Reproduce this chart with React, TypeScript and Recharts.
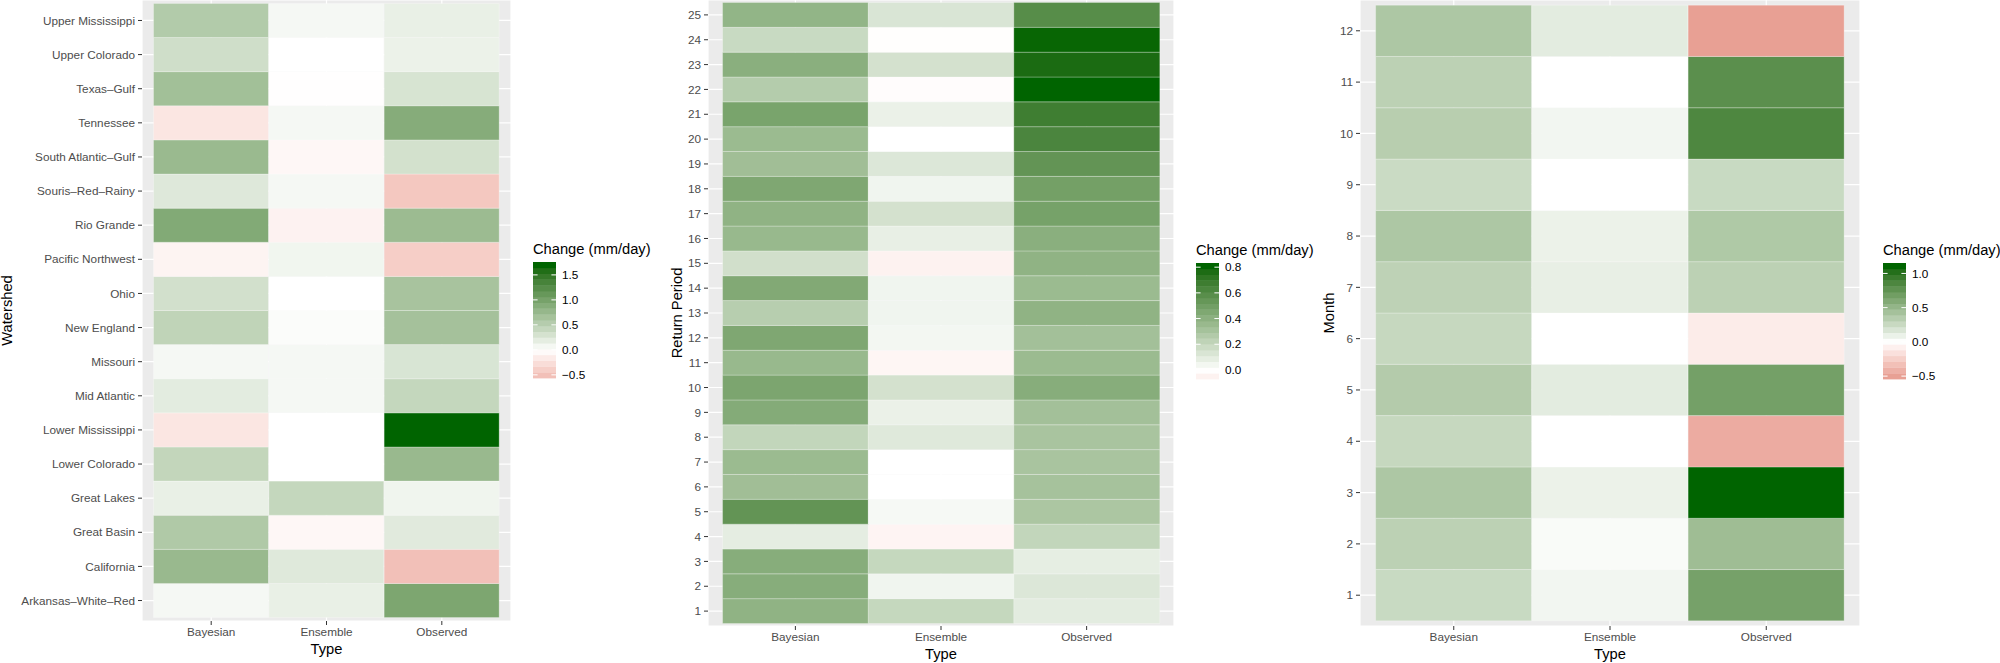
import { BarChart, Bar, Cell, XAxis, YAxis, CartesianGrid } from 'recharts'

const types = ['Bayesian', 'Ensemble', 'Observed']

// rows run from the bottom of each panel to the top
const watersheds = [
  'Arkansas–White–Red', 'California', 'Great Basin', 'Great Lakes', 'Lower Colorado',
  'Lower Mississippi', 'Mid Atlantic', 'Missouri', 'New England', 'Ohio',
  'Pacific Northwest', 'Rio Grande', 'Souris–Red–Rainy', 'South Atlantic–Gulf',
  'Tennessee', 'Texas–Gulf', 'Upper Colorado', 'Upper Mississippi',
]
const watershedBayesian = [0.07, 0.75, 0.58, 0.16, 0.44, -0.2, 0.2, 0.07, 0.46, 0.33, -0.09, 0.92, 0.24, 0.74, -0.2, 0.68, 0.35, 0.56]
const watershedEnsemble = [0.16, 0.23, -0.06, 0.43, 0.0, 0.0, 0.07, 0.07, 0.03, 0.0, 0.1, -0.1, 0.07, -0.06, 0.07, -0.01, 0.0, 0.07]
const watershedObserved = [0.96, -0.505, 0.22, 0.11, 0.75, 1.7, 0.43, 0.28, 0.66, 0.64, -0.39, 0.73, -0.44, 0.32, 0.89, 0.29, 0.14, 0.16]
const watershedBreaks = [-0.5, 0, 0.5, 1, 1.5]
const watershedBreakLabels = ['−0.5', '0.0', '0.5', '1.0', '1.5']

const periods = ['1', '2', '3', '4', '5', '6', '7', '8', '9', '10', '11', '12', '13', '14', '15', '16', '17', '18', '19', '20', '21', '22', '23', '24', '25']
const periodBayesian = [0.39, 0.42, 0.42, 0.09, 0.55, 0.33, 0.35, 0.21, 0.43, 0.46, 0.36, 0.45, 0.25, 0.44, 0.16, 0.36, 0.39, 0.45, 0.33, 0.35, 0.47, 0.26, 0.41, 0.19, 0.38]
const periodEnsemble = [0.2, 0.05, 0.2, -0.04, 0.03, 0.0, 0.0, 0.11, 0.07, 0.15, -0.035, 0.04, 0.05, 0.05, -0.048, 0.08, 0.15, 0.05, 0.12, 0.0, 0.07, -0.01, 0.15, -0.005, 0.13]
const periodObserved = [0.095, 0.12, 0.085, 0.21, 0.29, 0.31, 0.3, 0.3, 0.32, 0.42, 0.35, 0.32, 0.39, 0.35, 0.39, 0.41, 0.48, 0.49, 0.55, 0.63, 0.67, 0.81, 0.77, 0.8, 0.59]
const periodBreaks = [0, 0.2, 0.4, 0.6, 0.8]
const periodBreakLabels = ['0.0', '0.2', '0.4', '0.6', '0.8']

const months = ['1', '2', '3', '4', '5', '6', '7', '8', '9', '10', '11', '12']
const monthBayesian = [0.26, 0.32, 0.39, 0.27, 0.36, 0.27, 0.31, 0.39, 0.25, 0.34, 0.32, 0.39]
const monthEnsemble = [0.06, 0.03, 0.09, 0.0, 0.13, 0.0, 0.11, 0.09, 0.0, 0.06, 0.0, 0.13]
const monthObserved = [0.66, 0.46, 1.11, -0.44, 0.67, -0.1, 0.32, 0.38, 0.26, 0.85, 0.79, -0.5]
const monthBreaks = [-0.5, 0, 0.5, 1]
const monthBreakLabels = ['−0.5', '0.0', '0.5', '1.0']

const FONT = "'Liberation Sans', Arial, Helvetica, sans-serif"
const HIGH = [0, 100, 0] // darkgreen
const LOW = [178, 34, 34] // firebrick
const MID = [255, 255, 255]

// lab interpolation, the way scales::colour_ramp does it
function toLin(c: number) {
  c /= 255
  return c <= 0.04045 ? c / 12.92 : Math.pow((c + 0.055) / 1.055, 2.4)
}
function fromLin(v: number) {
  v = v <= 0.0031308 ? 12.92 * v : 1.055 * Math.pow(v, 1 / 2.4) - 0.055
  return Math.round(Math.max(0, Math.min(1, v)) * 255)
}
function toLab(rgb: number[]) {
  const [r, g, b] = rgb.map(toLin)
  const x = (0.4124 * r + 0.3576 * g + 0.1805 * b) / 0.95047
  const y = 0.2126 * r + 0.7152 * g + 0.0722 * b
  const z = (0.0193 * r + 0.1192 * g + 0.9505 * b) / 1.08883
  const f = (t: number) => (t > 0.008856 ? Math.cbrt(t) : 7.787 * t + 16 / 116)
  return [116 * f(y) - 16, 500 * (f(x) - f(y)), 200 * (f(y) - f(z))]
}
function fromLab(lab: number[]) {
  const fy = (lab[0] + 16) / 116
  const fx = fy + lab[1] / 500
  const fz = fy - lab[2] / 200
  const inv = (t: number) => (t * t * t > 0.008856 ? t * t * t : (t - 16 / 116) / 7.787)
  const x = 0.95047 * inv(fx)
  const y = inv(fy)
  const z = 1.08883 * inv(fz)
  const r = 3.2406 * x - 1.5372 * y - 0.4986 * z
  const g = -0.9689 * x + 1.8758 * y + 0.0415 * z
  const b = 0.0557 * x - 0.204 * y + 1.057 * z
  return `rgb(${fromLin(r)},${fromLin(g)},${fromLin(b)})`
}
const midLab = toLab(MID)
const highLab = toLab(HIGH)
const lowLab = toLab(LOW)

function fillFor(v: number, maxAbs: number) {
  const t = Math.min(1, Math.abs(v) / maxAbs)
  const end = v >= 0 ? highLab : lowLab
  return fromLab(midLab.map((m, i) => m + (end[i] - m) * t))
}

function ColourBar({ left, top, values, breaks, labels }: {
  left: number; top: number; values: number[]; breaks: number[]; labels: string[]
}) {
  const w = 23
  const h = 116
  const nbin = 20
  const lo = Math.min(...values)
  const hi = Math.max(...values)
  const maxAbs = Math.max(Math.abs(lo), Math.abs(hi))
  const bins = Array.from({ length: nbin }, (_, i) => lo + (i * (hi - lo)) / (nbin - 1))
  const yOf = (b: number) => h - ((0.5 + ((b - lo) / (hi - lo)) * (nbin - 1)) / nbin) * h
  return (
    <div style={{ position: 'absolute', left, top: top - 21, width: 130, height: 150 }}>
      <div style={{ fontSize: 14.7, lineHeight: '17px', color: '#000', whiteSpace: 'nowrap' }}>
        Change (mm/day)
      </div>
      <svg width={80} height={h + 10} style={{ position: 'absolute', left: 0, top: 21, overflow: 'visible' }}>
        {bins.map((v, i) => (
          <rect key={i} x={0} y={h - ((i + 1) * h) / nbin} width={w} height={h / nbin + 0.4} fill={fillFor(v, maxAbs)} />
        ))}
        {breaks.map((b, i) => (
          <g key={b}>
            <line x1={0} x2={w / 5} y1={yOf(b)} y2={yOf(b)} stroke="#ffffff" strokeWidth={1} />
            <line x1={(w * 4) / 5} x2={w} y1={yOf(b)} y2={yOf(b)} stroke="#ffffff" strokeWidth={1} />
            <text x={w + 6} y={yOf(b)} dy="0.36em" fontSize={11.75} fill="#000">{labels[i]}</text>
          </g>
        ))}
      </svg>
    </div>
  )
}

function HeatPanel({ left, width, axisWidth, axisHeight, rows, columns, yTitle, yTitleOffset, xTitleOffset }: {
  left: number; width: number; axisWidth: number; axisHeight: number; rows: string[]
  columns: number[][]; yTitle: string; yTitleOffset: number; xTitleOffset: number
}) {
  const all = columns.flat()
  const maxAbs = Math.max(...all.map((v) => Math.abs(v)))
  const data = types.map((type) => {
    const row: Record<string, string | number> = { type }
    rows.forEach((_, i) => { row[`r${i}`] = 1 })
    return row
  })
  const plotWidth = width - axisWidth
  const pad = plotWidth / 32
  return (
    <div style={{ position: 'absolute', left, top: 0 }}>
      <BarChart width={width} height={663} data={data} margin={{ top: 0, right: 0, bottom: 0, left: 0 }}
        barCategoryGap={0} barGap={0}>
        <CartesianGrid fill="#EBEBEB" stroke="#ffffff" strokeWidth={1.2} />
        <XAxis dataKey="type" height={axisHeight} padding={{ left: pad, right: pad }}
          axisLine={false} tickSize={4} tickMargin={3}
          tickLine={{ stroke: '#333333' }} tick={{ fill: '#4D4D4D', fontSize: 11.75 }}
          label={{ value: 'Type', position: 'insideBottom', offset: xTitleOffset, fill: '#000', fontSize: 14.7 }} />
        <YAxis type="number" width={axisWidth} domain={[-0.1, rows.length + 0.1]} allowDataOverflow
          ticks={rows.map((_, i) => i + 0.5)} interval={0}
          tickFormatter={(v: number) => rows[Math.round(v - 0.5)]}
          axisLine={false} tickSize={4} tickMargin={3}
          tickLine={{ stroke: '#333333' }} tick={{ fill: '#4D4D4D', fontSize: 11.75 }}
          label={{ value: yTitle, angle: -90, position: 'insideLeft', offset: yTitleOffset, fill: '#000', fontSize: 14.7, style: { textAnchor: 'middle' } }} />
        {rows.map((name, i) => (
          <Bar key={name} dataKey={`r${i}`} stackId="tiles" isAnimationActive={false}
            stroke="#ffffff" strokeOpacity={0.45} strokeWidth={0.6}>
            {columns.map((col, j) => (
              <Cell key={j} fill={fillFor(col[i], maxAbs)} />
            ))}
          </Bar>
        ))}
      </BarChart>
    </div>
  )
}

export default function App() {
  return (
    <div style={{ position: 'absolute', left: 0, top: 0, width: 2000, height: 663, background: '#fff', fontFamily: FONT }}>
      <HeatPanel left={0} width={511} axisWidth={142} axisHeight={42} rows={watersheds}
        columns={[watershedBayesian, watershedEnsemble, watershedObserved]}
        yTitle="Watershed" yTitleOffset={7} xTitleOffset={9} />
      <ColourBar left={533} top={262} values={[...watershedBayesian, ...watershedEnsemble, ...watershedObserved]}
        breaks={watershedBreaks} labels={watershedBreakLabels} />

      <HeatPanel left={640} width={534} axisWidth={68} axisHeight={37} rows={periods}
        columns={[periodBayesian, periodEnsemble, periodObserved]}
        yTitle="Return Period" yTitleOffset={37} xTitleOffset={4.5} />
      <ColourBar left={1196} top={263} values={[...periodBayesian, ...periodEnsemble, ...periodObserved]}
        breaks={periodBreaks} labels={periodBreakLabels} />

      <HeatPanel left={1300} width={560} axisWidth={60} axisHeight={37} rows={months}
        columns={[monthBayesian, monthEnsemble, monthObserved]}
        yTitle="Month" yTitleOffset={29} xTitleOffset={4.5} />
      <ColourBar left={1883} top={263} values={[...monthBayesian, ...monthEnsemble, ...monthObserved]}
        breaks={monthBreaks} labels={monthBreakLabels} />
    </div>
  )
}
